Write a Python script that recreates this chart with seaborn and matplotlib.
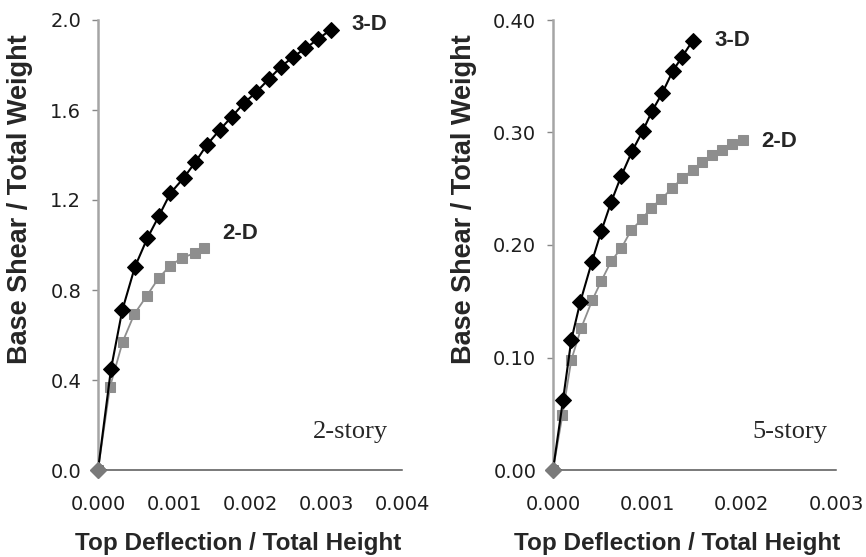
import matplotlib
matplotlib.use("Agg")
import matplotlib.pyplot as plt
from matplotlib.ticker import MultipleLocator, FormatStrFormatter
import seaborn as sns
import pandas as pd

# Pushover curves: 2-story building
two_story_3d_x = [0.0, 0.000171, 0.00032, 0.000487, 0.000649, 0.000803, 0.000952, 0.00113,
                  0.00128, 0.00143, 0.0016, 0.00176, 0.00192, 0.00208, 0.00225, 0.00241,
                  0.00257, 0.00273, 0.00289, 0.00306]
two_story_3d_y = [0.0, 0.449, 0.711, 0.904, 1.030, 1.130, 1.230, 1.299, 1.368, 1.444,
                  1.511, 1.570, 1.630, 1.679, 1.738, 1.793, 1.837, 1.874, 1.914, 1.956]
two_story_2d_x = [0.0, 0.000158, 0.000325, 0.000478, 0.00064, 0.000798, 0.000947, 0.00111,
                  0.00127, 0.0014]
two_story_2d_y = [0.0, 0.370, 0.570, 0.693, 0.773, 0.853, 0.907, 0.944, 0.963, 0.985]

# Pushover curves: 5-story building
five_story_3d_x = [0.0, 0.000106, 0.000194, 0.00029, 0.000413, 0.000512, 0.000618, 0.000723,
                   0.00084, 0.000953, 0.00105, 0.00116, 0.00127, 0.00137, 0.00148]
five_story_3d_y = [0.0, 0.0622, 0.1156, 0.1496, 0.1852, 0.2124, 0.2385, 0.2613, 0.2836,
                   0.3016, 0.319, 0.3353, 0.3547, 0.3674, 0.3816]
five_story_2d_x = [0.0, 0.0001, 0.000194, 0.0003, 0.000417, 0.000512, 0.000618, 0.000723,
                   0.00083, 0.000942, 0.00104, 0.00115, 0.00126, 0.00137, 0.00148, 0.00158,
                   0.00169, 0.00179, 0.0019, 0.00201]
five_story_2d_y = [0.0, 0.0489, 0.0978, 0.1265, 0.1511, 0.168, 0.1858, 0.197, 0.2133, 0.2228,
                   0.2332, 0.2409, 0.2504, 0.2593, 0.2667, 0.2741, 0.28, 0.2844, 0.2898, 0.2933]

x_label = "Top Deflection / Total Height"
y_label = "Base Shear / Total Weight"

sns.set_style("white")
plt.rcParams["font.family"] = ["Liberation Sans", "DejaVu Sans"]

BLACK = "#000000"
GRAY = "#8e8e8e"

fig = plt.figure(figsize=(8.66, 5.57), dpi=100)
ax1 = fig.add_axes([98 / 866, 87 / 557, 304 / 866, 450 / 557])
ax2 = fig.add_axes([553 / 866, 87 / 557, 283 / 866, 450 / 557])


def draw_curves(ax, x3, y3, x2, y2):
    d2 = pd.DataFrame({"x": x2, "y": y2})
    d3 = pd.DataFrame({"x": x3, "y": y3})
    sns.lineplot(data=d2, x="x", y="y", ax=ax, sort=False, color=GRAY, lw=1.3,
                 marker="s", markersize=7.5, markeredgecolor=GRAY, markerfacecolor=GRAY,
                 zorder=2)
    sns.lineplot(data=d3, x="x", y="y", ax=ax, sort=False, color=BLACK, lw=1.5,
                 marker="D", markersize=8.5, markeredgecolor=BLACK, markerfacecolor=BLACK,
                 zorder=3)
    # origin point shared by both curves
    ax.plot([0], [0], marker="D", ms=8.5, color="#7a7a7a", zorder=4, clip_on=False)


def style_axes(ax, xmax, ymax, ystep, yfmt, ylab_x, xlab_x):
    ax.set_xlim(0, xmax)
    ax.set_ylim(0, ymax)
    for side in ("top", "right"):
        ax.spines[side].set_visible(False)
    ax.spines["left"].set_color("#a5a5a5")
    ax.spines["left"].set_linewidth(1.8)
    ax.spines["bottom"].set_color("#555555")
    ax.spines["bottom"].set_linewidth(1.1)
    ax.xaxis.set_major_locator(MultipleLocator(0.001))
    ax.xaxis.set_minor_locator(MultipleLocator(0.0002))
    ax.xaxis.set_major_formatter(FormatStrFormatter("%.3f"))
    ax.yaxis.set_major_locator(MultipleLocator(ystep))
    ax.yaxis.set_major_formatter(FormatStrFormatter(yfmt))
    ax.tick_params(axis="x", which="major", direction="inout", length=8, width=1,
                   color="#555555", labelsize=14, labelcolor="#1e1e1e", pad=14)
    ax.tick_params(axis="x", which="minor", direction="in", length=4, width=1,
                   color="#555555")
    ax.tick_params(axis="y", which="major", direction="out", length=4, width=1,
                   color="#888888", labelsize=14, labelcolor="#1e1e1e", pad=8, left=True)
    for lab in ax.get_xticklabels() + ax.get_yticklabels():
        lab.set_family("DejaVu Sans")
    ax.set_xlabel(x_label, fontsize=17.5, fontweight="bold")
    ax.set_ylabel(y_label, fontsize=19.5, fontweight="bold")
    ax.xaxis.set_label_coords(xlab_x, -0.138)
    ax.yaxis.set_label_coords(ylab_x, 0.603)
    ax.grid(False)


draw_curves(ax1, two_story_3d_x, two_story_3d_y, two_story_2d_x, two_story_2d_y)
style_axes(ax1, 0.004, 2.0, 0.4, "%.1f", -0.214, 0.46)
ax1.text(0.00334, 1.978, "3-D", fontsize=16, fontweight="bold", ha="left", va="center")
ax1.text(0.00164, 1.053, "2-D", fontsize=16, fontweight="bold", ha="left", va="center")
ax1.text(0.00332, 0.169, "2-story", fontsize=19, family="Liberation Serif",
         ha="center", va="center")

draw_curves(ax2, five_story_3d_x, five_story_3d_y, five_story_2d_x, five_story_2d_y)
style_axes(ax2, 0.003, 0.40, 0.10, "%.2f", -0.27, 0.44)
ax2.text(0.00171, 0.382, "3-D", fontsize=16, fontweight="bold", ha="left", va="center")
ax2.text(0.00221, 0.2916, "2-D", fontsize=16, fontweight="bold", ha="left", va="center")
ax2.text(0.00251, 0.0338, "5-story", fontsize=19, family="Liberation Serif",
         ha="center", va="center")

fig.savefig("out.png", dpi=100, facecolor="white")
